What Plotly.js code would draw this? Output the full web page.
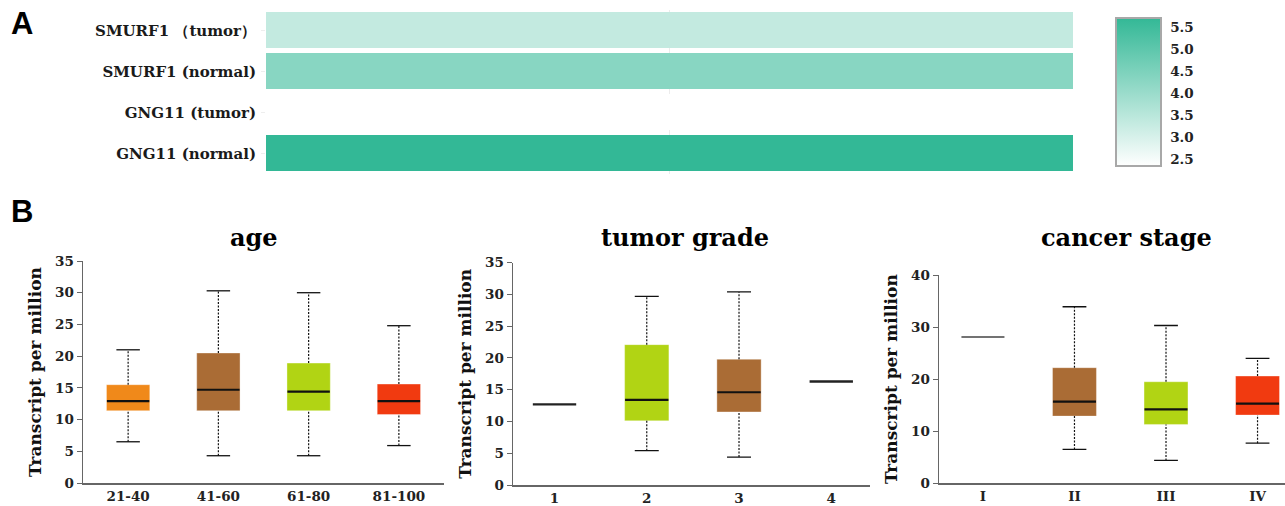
<!DOCTYPE html>
<html>
<head>
<meta charset="utf-8">
<script src="https://cdn.plot.ly/plotly-3.0.1.min.js"></script>
<style>html,body{margin:0;padding:0;background:#fff;}#chart{width:1285px;height:506px;}</style>
</head>
<body>
<div id="chart"></div>
<script>
// ---------- Panel A data ----------
const heatRows = ['SMURF1 （tumor）', 'SMURF1 (normal)', 'GNG11 (tumor)', 'GNG11 (normal)'];
const heatValues = [3.33, 4.30, 2.35, 5.70];
const colorbarTicks = [2.5, 3.0, 3.5, 4.0, 4.5, 5.0, 5.5];

// ---------- Panel B data: age ----------
const ageCats = ['21-40', '41-60', '61-80', '81-100'];
const ageUpper = [21.0, 30.3, 30.0, 24.8];
const ageQ3 = [15.5, 20.5, 18.9, 15.6];
const ageMedian = [12.9, 14.7, 14.4, 12.9];
const ageQ1 = [11.4, 11.4, 11.4, 10.8];
const ageLower = [6.5, 4.3, 4.3, 5.9];
const ageColors = ['#f0891a', '#aa6c35', '#b1d414', '#f13a10'];

// ---------- tumor grade ----------
const gradeCats = ['1', '2', '3', '4'];
const gradeUpper = [null, 29.7, 30.4, null];
const gradeQ3 = [null, 22.1, 19.8, null];
const gradeMedian = [12.7, 13.4, 14.6, 16.3];
const gradeQ1 = [null, 10.1, 11.5, null];
const gradeLower = [null, 5.4, 4.4, null];
const gradeColors = ['#b1d414', '#b1d414', '#aa6c35', '#aa6c35'];

// ---------- cancer stage ----------
const stageCats = ['I', 'II', 'III', 'IV'];
const stageUpper = [null, 33.9, 30.3, 24.0];
const stageQ3 = [null, 22.2, 19.5, 20.6];
const stageMedian = [28.1, 15.7, 14.2, 15.3];
const stageQ1 = [null, 12.9, 11.3, 13.1];
const stageLower = [null, 6.5, 4.4, 7.7];
const stageColors = ['#aa6c35', '#aa6c35', '#b1d414', '#f13a10'];

const W = 1285, H = 506;
const px = v => v / W;
const py = v => 1 - v / H;
const SERIF = 'DejaVu Serif, Liberation Serif, serif';

const traces = [];

traces.push({
  type: 'heatmap',
  x: [0],
  y: heatRows,
  z: heatValues.map(v => [v]),
  zmin: 2.35, zmax: 5.70,
  colorscale: [[0, '#ffffff'], [1, '#33b896']],
  ygap: 5,
  xaxis: 'x', yaxis: 'y',
  hoverinfo: 'skip',
  colorbar: {
    x: px(1116), xanchor: 'left',
    y: py(92), yanchor: 'middle',
    lenmode: 'pixels', len: 148,
    thickness: 45,
    xpad: 0, ypad: 0,
    outlinewidth: 2, outlinecolor: '#a8a8a8',
    tickvals: colorbarTicks,
    ticktext: colorbarTicks.map(v => v.toFixed(1)),
    ticks: 'outside', ticklen: 6, tickcolor: 'rgba(0,0,0,0)',
    tickfont: {family: SERIF, size: 13.5, color: '#222', weight: 'bold'}
  }
});

function panel(upper, q3, med, q1, lower, colors, xa, ya, singleColor, singleWidth) {
  const idx = med.map((_, i) => i);
  traces.push({
    type: 'bar', x: idx,
    y: q3.map((v, i) => v == null ? null : v - q1[i]),
    base: q1, width: 0.48,
    marker: {color: colors, line: {color: 'rgba(255,255,255,0.35)', width: 1}},
    xaxis: xa, yaxis: ya, hoverinfo: 'skip', showlegend: false
  });
  const wx = [], wy = [], cx = [], cy = [], mx = [], my = [], sx = [], sy = [];
  idx.forEach(i => {
    if (q1[i] != null) {
      wx.push(i, i, null, i, i, null);
      wy.push(q3[i], upper[i], null, lower[i], q1[i], null);
      cx.push(i - 0.13, i + 0.13, null, i - 0.13, i + 0.13, null);
      cy.push(upper[i], upper[i], null, lower[i], lower[i], null);
      mx.push(i - 0.235, i + 0.235, null);
      my.push(med[i], med[i], null);
    } else {
      sx.push(i - 0.235, i + 0.235, null);
      sy.push(med[i], med[i], null);
    }
  });
  traces.push({type: 'scatter', mode: 'lines', x: wx, y: wy, xaxis: xa, yaxis: ya,
    line: {color: '#111', width: 1.2, dash: '2px,1.5px'}, hoverinfo: 'skip', showlegend: false});
  traces.push({type: 'scatter', mode: 'lines', x: cx, y: cy, xaxis: xa, yaxis: ya,
    line: {color: '#111', width: 1.3}, hoverinfo: 'skip', showlegend: false});
  traces.push({type: 'scatter', mode: 'lines', x: mx, y: my, xaxis: xa, yaxis: ya,
    line: {color: '#111', width: 2.2}, hoverinfo: 'skip', showlegend: false});
  if (sx.length) {
    traces.push({type: 'scatter', mode: 'lines', x: sx, y: sy, xaxis: xa, yaxis: ya,
      line: {color: singleColor, width: singleWidth}, hoverinfo: 'skip', showlegend: false});
  }
}

panel(ageUpper, ageQ3, ageMedian, ageQ1, ageLower, ageColors, 'x2', 'y2', '#111', 2.2);
panel(gradeUpper, gradeQ3, gradeMedian, gradeQ1, gradeLower, gradeColors, 'x3', 'y3', '#222', 2.4);
panel(stageUpper, stageQ3, stageMedian, stageQ1, stageLower, stageColors, 'x4', 'y4', '#444', 1.5);

const tickFont = {family: SERIF, size: 13.5, color: '#222', weight: 'bold'};
const axTitleFont = {family: SERIF, size: 17, color: '#111', weight: 'bold'};

function xAxis(domain, range, cats) {
  return {
    domain: domain, range: range, tickvals: cats.map((_, i) => i), ticktext: cats,
    showline: true, linecolor: '#666', linewidth: 1.5, ticks: '', showgrid: false,
    zeroline: false, tickfont: tickFont, fixedrange: true
  };
}
function yAxis(domain, range, dtick, anchor, standoff) {
  return {
    domain: domain, range: range, dtick: dtick, anchor: anchor,
    showline: true, linecolor: '#666', linewidth: 1.5, ticks: 'outside', ticklen: 5,
    tickcolor: '#666', showgrid: false, zeroline: false, tickfont: tickFont,
    title: {text: 'Transcript per million', font: axTitleFont, standoff: standoff},
    automargin: false, fixedrange: true
  };
}

const layout = {
  width: W, height: H,
  margin: {l: 0, r: 0, t: 0, b: 0},
  paper_bgcolor: '#fff', plot_bgcolor: 'rgba(0,0,0,0)',
  showlegend: false,
  xaxis: {domain: [px(266), px(1073)], range: [-0.5, 0.5], tickvals: [0], showticklabels: false,
    showgrid: true, gridcolor: '#ececec', zeroline: false, showline: false, ticks: '', fixedrange: true},
  yaxis: {domain: [py(174), py(10)], autorange: 'reversed', type: 'category',
    ticks: 'outside', ticklen: 4, tickcolor: '#eeeeee', showline: false, showgrid: false,
    tickfont: {family: SERIF, size: 15, color: '#1a1a1a', weight: 'bold'}, ticklabelstandoff: 2,
    automargin: false, fixedrange: true},
  xaxis2: Object.assign(xAxis([px(83), px(444)], [-0.5, 3.5], ageCats), {anchor: 'y2'}),
  yaxis2: yAxis([py(483), py(261)], [0, 35], 5, 'x2', 9),
  xaxis3: Object.assign(xAxis([px(513), px(870)], [-0.45, 3.42], gradeCats), {anchor: 'y3'}),
  yaxis3: yAxis([py(485), py(262.7)], [0, 35], 5, 'x3', 9),
  xaxis4: Object.assign(xAxis([px(939), px(1285)], [-0.48, 3.3], stageCats), {anchor: 'y4'}),
  yaxis4: yAxis([py(483.3), py(275)], [0, 40], 10, 'x4', 9),
  annotations: [
    {text: 'A', x: px(9), y: py(24), xref: 'paper', yref: 'paper', xanchor: 'left', yanchor: 'middle',
      showarrow: false, font: {family: 'Liberation Sans, Arial, sans-serif', size: 31, color: '#000', weight: 'bold'}},
    {text: 'B', x: px(9), y: py(211), xref: 'paper', yref: 'paper', xanchor: 'left', yanchor: 'middle',
      showarrow: false, font: {family: 'Liberation Sans, Arial, sans-serif', size: 31, color: '#000', weight: 'bold'}},
    {text: 'age', x: px(254), y: py(238), xref: 'paper', yref: 'paper', xanchor: 'center', yanchor: 'middle',
      showarrow: false, font: {family: SERIF, size: 24, color: '#000', weight: 'bold'}},
    {text: 'tumor grade', x: px(685), y: py(238), xref: 'paper', yref: 'paper', xanchor: 'center', yanchor: 'middle',
      showarrow: false, font: {family: SERIF, size: 24, color: '#000', weight: 'bold'}},
    {text: 'cancer stage', x: px(1126), y: py(238), xref: 'paper', yref: 'paper', xanchor: 'center', yanchor: 'middle',
      showarrow: false, font: {family: SERIF, size: 24, color: '#000', weight: 'bold'}}
  ]
};

Plotly.newPlot('chart', traces, layout, {displayModeBar: false, staticPlot: true});
</script>
</body>
</html>
